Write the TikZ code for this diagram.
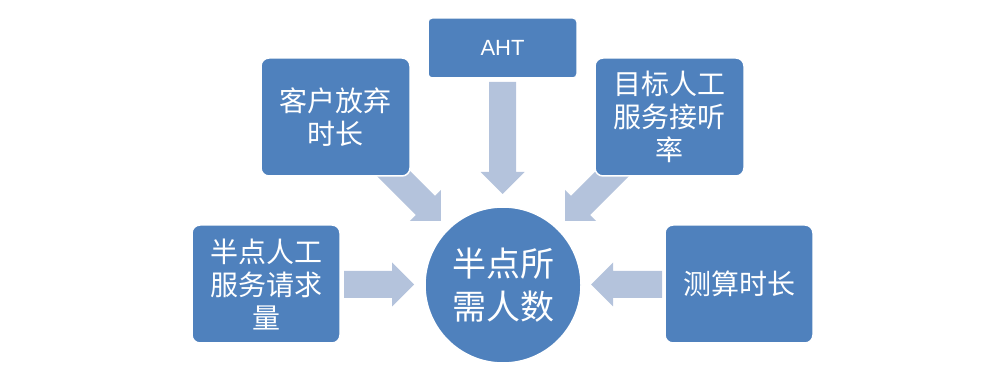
\documentclass[tikz,border=0pt]{standalone}
\usepackage{fontspec}
\newfontfamily\cjk{Noto Sans CJK SC}
\newfontfamily\latinsans{Liberation Sans}
\definecolor{boxblue}{HTML}{4F81BD}
\definecolor{arrowc}{HTML}{B4C3DC}
\begin{document}
\begin{tikzpicture}[x=1pt,y=1pt,
  inbox/.style={rectangle, rounded corners=8pt, fill=boxblue, draw=white, line width=1.5pt,
    minimum width=148pt, minimum height=118pt, inner sep=0pt, text=white, align=center,
    font=\cjk\fontsize{28pt}{33pt}\selectfont},
  hub/.style={circle, fill=boxblue, draw=white, line width=1.5pt, minimum size=156pt,
    inner sep=0pt, text=white, align=center, font=\cjk\fontsize{34pt}{43pt}\selectfont},
  blockarrow/.style={fill=arrowc}
]
\useasboundingbox (0,0) rectangle (1006,380);
% block arrows (drawn first, under boxes)
\coordinate (tl) at (344,95.5);
\coordinate (tr) at (662,95.5);
\coordinate (tt) at (502.5,298);
\coordinate (tul) at (386.5,213.5);
\coordinate (tur) at (619.5,213.5);
\fill[blockarrow, shift={(tl)}, rotate=0]
  (0,-13.5) -- (48,-13.5) -- (48,-22) -- (70,0) -- (48,22) -- (48,13.5) -- (0,13.5) -- cycle;
\fill[blockarrow, shift={(tr)}, rotate=180]
  (0,-13.5) -- (49,-13.5) -- (49,-22) -- (71,0) -- (49,22) -- (49,13.5) -- (0,13.5) -- cycle;
\fill[blockarrow, shift={(tt)}, rotate=-90]
  (0,-13.5) -- (90,-13.5) -- (90,-22) -- (112,0) -- (90,22) -- (90,13.5) -- (0,13.5) -- cycle;
\fill[blockarrow, shift={(tul)}, rotate=-45]
  (0,-13.5) -- (55,-13.5) -- (55,-22) -- (77,0) -- (55,22) -- (55,13.5) -- (0,13.5) -- cycle;
\fill[blockarrow, shift={(tur)}, rotate=-135]
  (0,-13.5) -- (55,-13.5) -- (55,-22) -- (77,0) -- (55,22) -- (55,13.5) -- (0,13.5) -- cycle;
% boxes
\node[inbox, rounded corners=4pt, minimum width=149pt, minimum height=60pt,
  font=\latinsans\fontsize{22pt}{26pt}\selectfont] (aht) at (502.5,332) {AHT};
\node[inbox, minimum width=149pt] (kehu) at (335.5,263) {客户放弃\\时长};
\node[inbox, minimum width=149pt] (mubiao) at (669.5,263) {目标人工\\服务接听\\率};
\node[inbox] (banreq) at (266,96) {半点人工\\服务请求\\量};
\node[inbox] (cesuan) at (739,96) {测算时长};
\node[hub] (center) at (503,95) {半点所\\需人数};
\end{tikzpicture}
\end{document}
